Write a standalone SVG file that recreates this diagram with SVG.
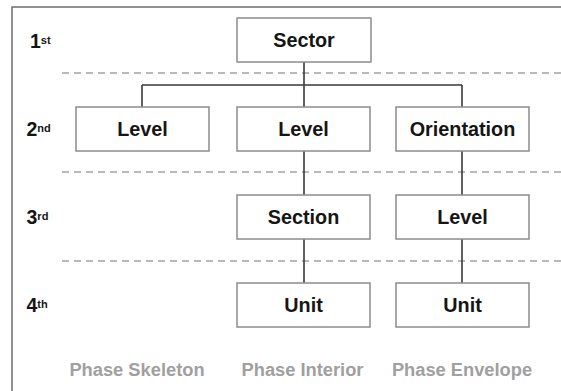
<svg xmlns="http://www.w3.org/2000/svg" width="561" height="391" viewBox="0 0 561 391">
  <style>
    .frame { fill: none; stroke: #6e6e6e; stroke-width: 1.5; }
    .sep { stroke: #a3a3a3; stroke-width: 1.5; stroke-dasharray: 7 5; fill: none; }
    .box { fill: #ffffff; stroke: #8c8c8c; stroke-width: 1.5; }
    .link { fill: none; stroke: #3a3a3a; stroke-width: 1.6; }
    .label { font-family: "Liberation Sans", Arial, sans-serif; font-weight: bold; font-size: 19.8px; fill: #151515; text-anchor: middle; }
    .ord { font-family: "Liberation Sans", Arial, sans-serif; font-weight: bold; font-size: 19.5px; fill: #151515; }
    .sup { font-size: 11px; }
    .phase { font-family: "Liberation Sans", Arial, sans-serif; font-weight: bold; font-size: 18.3px; fill: #a0a0a0; text-anchor: middle; }
  </style>

  <rect x="0" y="0" width="561" height="391" fill="#ffffff"/>
  <rect class="frame" x="12" y="7" width="600" height="420"/>

  <!-- level separators -->
  <g id="separators">
    <line class="sep" x1="62" y1="73" x2="561" y2="73"/>
    <line class="sep" x1="62" y1="172" x2="561" y2="172"/>
    <line class="sep" x1="62" y1="261" x2="561" y2="261"/>
  </g>

  <!-- ordinal row labels -->
  <g id="ordinals">
    <text class="ord" x="30" y="47.5">1<tspan class="sup" dy="-4">st</tspan></text>
    <text class="ord" x="26.5" y="135.5">2<tspan class="sup" dy="-4">nd</tspan></text>
    <text class="ord" x="26.5" y="223.5">3<tspan class="sup" dy="-4">rd</tspan></text>
    <text class="ord" x="26.5" y="312">4<tspan class="sup" dy="-4">th</tspan></text>
  </g>

  <!-- connectors -->
  <g id="connectors">
    <path class="link" d="M304,62 V85 M142,85 H462 M142,85 V107 M304,85 V107 M462,85 V107"/>
    <path class="link" d="M304,151 V195 M304,239 V283"/>
    <path class="link" d="M462,151 V195 M462,239 V283"/>
  </g>

  <g id="sector">
    <rect class="box" x="237" y="18" width="134" height="44"/>
    <text class="label" x="304" y="47">Sector</text>
  </g>

  <g id="skeleton-level">
    <rect class="box" x="76" y="107" width="133" height="44"/>
    <text class="label" x="142.5" y="136">Level</text>
  </g>

  <g id="interior-level">
    <rect class="box" x="237" y="107" width="133" height="44"/>
    <text class="label" x="303.5" y="136">Level</text>
  </g>

  <g id="envelope-orientation">
    <rect class="box" x="396" y="107" width="133" height="44"/>
    <text class="label" x="462.5" y="136">Orientation</text>
  </g>

  <g id="interior-section">
    <rect class="box" x="237" y="195" width="133" height="44"/>
    <text class="label" x="303.5" y="224">Section</text>
  </g>

  <g id="envelope-level">
    <rect class="box" x="396" y="195" width="133" height="44"/>
    <text class="label" x="462.5" y="224">Level</text>
  </g>

  <g id="interior-unit">
    <rect class="box" x="237" y="283" width="133" height="44"/>
    <text class="label" x="303.5" y="312">Unit</text>
  </g>

  <g id="envelope-unit">
    <rect class="box" x="396" y="283" width="133" height="44"/>
    <text class="label" x="462.5" y="312">Unit</text>
  </g>

  <!-- phase captions -->
  <g id="phases">
    <text class="phase" x="137" y="375.5">Phase Skeleton</text>
    <text class="phase" x="302.5" y="375.5">Phase Interior</text>
    <text class="phase" x="462" y="375.5">Phase Envelope</text>
  </g>
</svg>
